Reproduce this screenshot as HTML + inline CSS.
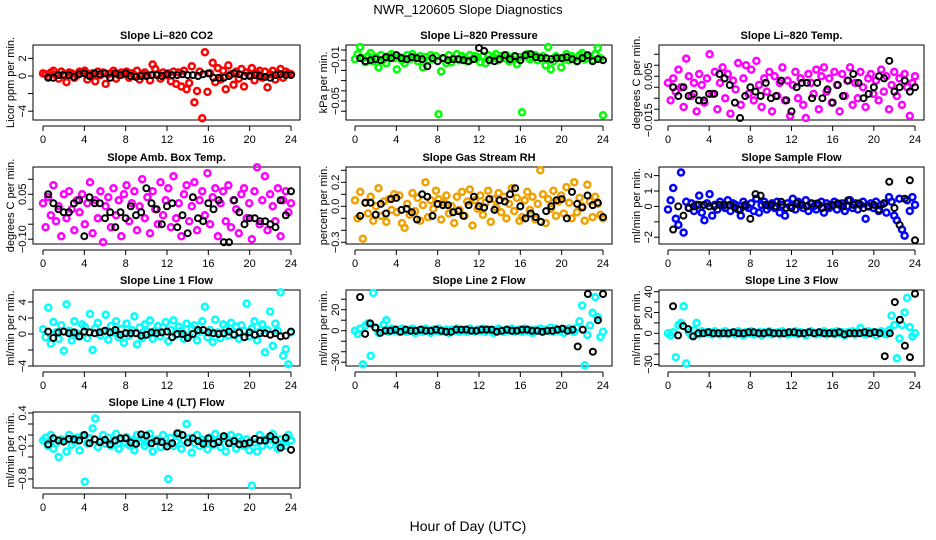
<!DOCTYPE html>
<html>
<head>
<meta charset="utf-8">
<style>
html,body{margin:0;padding:0;background:#fff;}
svg{display:block;font-family:"Liberation Sans",Arial,sans-serif;}
</style>
</head>
<body>
<svg id="chart" width="936" height="540" viewBox="0 0 936 540" xmlns="http://www.w3.org/2000/svg">
<rect x="0" y="0" width="936" height="540" fill="#fff"/>
<text x="468" y="14" text-anchor="middle" font-size="13">NWR_120605  Slope Diagnostics</text>
<text x="468" y="531" text-anchor="middle" font-size="14">Hour of Day (UTC)</text>
</svg>
<script>
// ---- data (values per panel) ----
const xTicks = [0,4,8,12,16,20,24];
const xTickLabels = ["0","4","8","12","16","20","24"];

const p1Color = [.3,.2,-.1,.4,.6,.1,-.3,.5,.2,-.7,.4,.3,-.2,.1,.5,.4,
.6,-.4,.2,.3,-.6,.5,.1,.4,-.9,.2,.3,.6,-.3,.1,.4,.2,
.5,-.2,.3,.1,.6,-.4,.2,.4,.1,-.5,1.3,.8,.2,-.3,.4,.1,
.3,-.6,.5,-.9,.4,-1.2,.6,-1.5,-.8,1.1,-3,-1.7,.5,-4.8,2.7,-1.8,
.3,1.5,-.7,.9,-.4,.6,-1.5,1.2,.2,-1.0,.5,-.3,.8,-1.2,.4,.1,
.9,-.5,.3,.6,-.2,.5,-1.3,.2,.6,-.4,.3,.8,-.2,.5,.3,.2];
const p1Black = [-.2,-.2,.1,.1,.1,-.1,.2,.3,0,.3,.2,.3,-.2,.3,.1,.3,0,-.1,0,0,.1,.1,0,.2,.1,.1,.2,.1,.1,0,.2,.3,-.2,-.2,-.2,0,.3,.2,0,0,.1,0,-.1,-.2,.1,.2,.1,.1];

const p2Color = [-.009,-.004,.003,-.008,-.012,-.006,-.003,-.011,-.007,-.017,-.005,-.009,-.013,-.006,-.004,-.008,
-.019,-.007,-.010,-.013,-.005,-.009,-.004,-.008,-.011,-.006,-.017,-.007,-.010,-.005,-.009,-.006,
-.063,-.021,-.008,-.013,-.005,-.012,-.009,-.004,-.010,-.006,-.008,-.011,-.005,-.009,-.006,-.007,
-.012,-.006,-.013,-.005,-.009,-.007,-.004,-.010,-.006,-.008,-.005,-.011,-.009,-.006,-.014,-.007,
-.061,-.006,-.004,-.009,-.008,-.005,-.010,-.007,-.006,-.015,.003,-.019,-.011,-.006,-.008,-.017,
-.009,-.004,-.010,-.006,-.008,-.011,-.005,-.003,-.009,-.006,-.007,-.010,-.004,.002,-.008,-.064];
const p2Black = [-.008,-.011,-.010,-.009,-.010,-.007,-.008,-.005,-.008,-.009,-.007,-.008,-.009,-.016,-.008,-.011,-.008,-.010,-.009,-.009,-.010,-.011,-.009,.002,-.001,-.010,-.011,-.009,-.005,-.009,-.006,-.010,-.005,-.004,-.007,-.008,-.008,-.009,-.008,-.008,-.007,-.009,-.011,-.008,-.005,-.011,-.009,-.010];

const p3Color = [.002,-.006,.004,-.002,.008,.0,-.009,.013,.005,-.004,.002,-.011,.006,.001,-.007,.004,
.015,-.003,.007,-.010,.002,.009,-.005,.006,-.012,.003,-.001,.011,-.008,.004,.010,-.003,
.008,-.006,.012,.001,-.009,.004,-.002,.007,-.011,.005,-.004,.002,.009,-.006,.003,-.013,
.001,.007,-.005,.004,-.008,-.014,.006,.002,-.003,.008,-.010,.005,.009,-.002,.004,-.007,
.007,.001,-.011,.006,-.004,.003,.009,-.008,.002,-.005,.007,.0,-.009,.004,.006,-.003,
.003,-.006,.008,-.002,.005,-.010,.001,.007,-.004,.004,-.008,.006,.0,-.013,.002,.005];
const p3Black = [.000,-.004,.000,-.004,-.003,-.006,-.006,-.003,-.003,.006,.004,.001,-.007,-.014,-.004,.000,-.002,-.004,.002,-.005,-.004,.003,-.006,-.011,.000,.002,.002,-.005,.002,-.005,-.001,-.007,.001,-.004,.003,.006,.002,-.005,-.003,.000,.005,.004,.012,-.002,.000,.003,-.002,.000];

const p4Color = [.02,-.06,.04,-.02,.08,-.04,.01,-.09,.05,-.03,.06,.0,-.07,.03,-.01,.05,
-.05,.02,.09,-.08,.03,-.03,.06,-.11,.01,.04,-.06,.07,-.02,.03,-.09,.05,
.08,-.04,.02,.06,-.07,.01,.10,-.03,.04,-.08,.06,.0,-.05,.09,-.02,.03,
.07,-.06,.11,-.03,.02,-.09,.05,.08,-.04,.01,.09,-.07,.03,.06,-.02,.12,
-.05,.04,.07,-.09,.02,.06,-.04,.08,-.06,.03,.0,-.08,.05,.07,-.03,.02,
-.10,.06,.14,-.05,.03,.11,-.07,.05,.01,-.04,.07,-.09,.03,.06,-.01,.02];
const p4Black = [.05,.02,.0,-.01,-.01,.02,.03,-.09,.04,.02,.02,-.03,-.01,-.06,-.01,-.03,.01,-.02,-.01,.07,.02,.0,-.05,.01,.02,-.06,-.02,-.08,.04,-.03,-.04,.02,.0,.03,-.11,-.11,.03,-.01,-.05,-.03,-.03,-.04,-.04,-.05,-.06,.03,-.02,.06];

const p5Color = [.05,-.10,.12,-.27,.03,-.06,.08,-.12,.0,.15,-.08,.04,-.13,.06,-.03,.10,
-.05,.09,-.14,-.18,.02,-.07,.11,-.04,.07,-.12,.01,.20,-.09,.05,-.02,.13,
.06,-.11,.03,.09,-.06,.0,-.14,.08,-.03,.12,-.08,.04,.14,-.16,.05,-.02,
.09,-.07,.03,.13,-.13,.06,-.01,.11,-.05,.08,-.10,.02,.15,-.04,.07,-.12,
-.09,.05,.12,-.03,.08,-.11,.02,.30,.10,-.14,.06,-.02,.13,-.08,.04,.09,
-.06,.16,.03,-.10,.20,-.05,.07,.0,-.12,.18,.04,-.09,.08,.02,-.07,-.10];
const p5Black = [-.08,.03,.03,-.07,.02,-.06,.06,.07,-.03,-.02,-.05,-.11,.10,.08,-.08,.02,.01,.01,-.05,-.04,-.08,.01,.08,.00,-.01,.06,-.03,.05,.04,.10,.15,.00,-.10,-.06,-.09,-.13,-.04,.00,.05,.06,-.10,.12,.02,-.01,.09,.01,.03,-.09];

const p6Color = [-.2,.4,1.2,-.8,-1.2,2.2,-1.7,.3,-.1,.2,-.3,.1,.7,-.4,-.9,.2,
.8,-.6,.1,-.2,.3,.0,-.1,.4,-.3,.2,.1,-.2,-.6,.3,.0,-.1,
.2,-.3,.5,-.4,.1,.3,-.2,.0,.2,-.1,.3,-.4,.1,-.6,.2,.0,
.5,-.2,.3,.1,-.1,.4,-.3,.2,.0,-.2,.1,.3,-.4,.2,-.1,.0,
.3,-.2,.1,.2,-.3,.0,.4,-.1,.2,-.2,.1,.3,-.8,.0,.2,-.1,
.3,-.3,.1,.2,-.4,.6,.3,-.6,-.9,.5,-1.5,-1.9,.4,-.3,.6,.1];
const p6Black = [-1.5,0,-.6,-.1,.0,.1,.1,.0,.0,.1,.1,.1,-.1,-.2,.1,-.8,.8,.7,.1,.1,.0,.3,-.1,-.1,.2,.1,.0,.2,.2,-.1,.0,.1,.2,.0,.4,.1,.2,-.1,.0,.1,-.2,.2,1.6,-.1,-1.2,.5,1.7,-2.2];

const p7Color = [.6,-.4,3.3,-1.2,1.5,.2,-.6,1.1,-2.1,3.7,.4,-.8,1.6,.1,-.3,1.2,
.9,-.5,2.5,-2.0,.7,1.4,-.2,.3,2.4,-.7,1.0,.2,1.6,-.4,.6,-1.1,
1.3,-.2,.5,2.2,-1.3,.8,-.5,1.2,.3,1.7,-.6,.4,1.0,-.3,.8,1.5,
-.9,.5,1.7,-.1,.9,.4,-.6,1.3,-.2,.7,1.1,-.8,.3,1.6,3.4,-.4,
.5,-1.0,1.8,.2,-.5,1.2,.6,-.2,1.4,.0,.9,-.6,1.1,.4,3.8,-.3,
.7,1.6,-.8,.3,1.2,-2.3,.5,2.8,-1.5,1.3,.4,5.2,-2.7,-1.9,-3.8,.2];
const p7Black = [.3,-.5,.2,.3,.1,.2,-.3,.3,.2,.1,.2,.4,.2,.5,-.1,.1,.1,.1,-.2,-.1,.2,.1,.2,.3,-.4,.0,.0,-.5,.0,.5,.5,.2,.1,.0,.1,.3,-.1,.2,-.4,.2,-.1,.1,.1,-.1,.1,-.3,-.2,.3];

const p8Color = [0,-3,2,-32,5,7,-24,36,3,-2,1,6,10,-1,2,0,
1,-1,2,0,-1,1,2,-2,0,1,-1,2,0,-2,1,0,
2,-1,0,1,-2,1,0,2,-1,0,1,-1,2,0,-1,1,
0,2,-1,1,0,-2,1,2,0,-1,1,0,2,-1,0,1,
-1,2,0,1,-2,1,0,2,-1,1,0,3,-1,2,0,1,
-2,1,2,0,-1,3,9,24,-33,-4,5,17,32,13,-6,-1];
const p8Black = [32,-3,7,3,-2,0,0,1,-1,1,0,0,1,0,0,1,0,-1,-1,1,1,1,0,0,1,1,1,-1,0,1,0,0,1,1,0,0,-1,0,0,1,2,0,1,-15,1,35,-20,10,35];

const p9Color = [0,-2,1,-23,8,10,26,-29,1,-2,3,10,-1,2,0,1,
1,-1,2,0,-1,1,2,-1,0,1,-1,2,0,-2,1,0,
2,-1,0,1,-2,1,0,2,-1,0,1,-1,2,0,-1,1,
0,2,-1,1,0,-2,1,2,0,-1,1,0,2,-1,0,1,
-1,2,0,1,-2,1,0,2,-1,1,5,0,-1,2,0,1,
-2,1,2,0,-1,3,17,8,-24,-5,8,20,34,6,-3,0];
const p9Black = [26,-2,7,4,-3,0,0,1,0,0,0,0,1,0,0,1,1,0,0,1,0,0,0,1,1,0,0,1,0,1,0,0,0,1,-1,0,0,0,1,0,1,0,-22,0,30,13,-12,-23,38];

const p10Color = [-.1,-.05,-.2,.0,-.25,-.15,-.4,-.08,-.1,-.3,.0,-.18,-.12,-.05,-.28,-.02,
-.85,-.15,-.06,.12,.3,-.22,-.1,.0,-.16,-.05,-.2,-.12,.02,-.25,-.08,-.14,
-.04,-.18,-.1,-.28,.0,-.12,-.06,-.2,-.15,.02,-.3,-.1,-.08,-.22,.0,-.16,
-.8,-.05,-.2,-.12,.03,-.25,-.1,.2,-.06,-.32,-.15,.0,-.2,-.08,-.12,-.26,
-.05,-.18,.02,-.1,-.22,-.06,-.3,-.12,.0,-.16,-.25,-.04,-.1,-.2,-.08,-.28,
-.92,-.14,-.3,.0,-.2,-.1,-.06,-.18,.02,-.12,-.25,-.08,-.15,-.2,.0,-.1];
const p10Black = [-.17,-.06,-.1,-.12,-.07,-.08,-.1,0,-.15,-.08,-.13,-.09,-.17,-.1,-.06,-.06,-.14,-.16,.01,-.01,-.15,-.11,-.13,-.21,-.15,.03,0,-.14,-.06,-.11,-.16,-.06,-.16,-.13,-.02,-.15,-.11,-.17,-.16,-.14,-.07,-.1,-.1,-.02,-.09,-.23,-.05,-.27];

const p1Ticks=[2,0,-2,-4], p1TickLabels=["2","0","","\u22124"];
const p2Ticks=[0,-0.01,-0.02,-0.03,-0.04,-0.05,-0.06], p2TickLabels=["","\u22120.01","","","","\u22120.05",""];
const p3Ticks=[0.015,0.01,0.005,0,-0.005,-0.01,-0.015], p3TickLabels=["","","0.005","","","","\u22120.015"];
const p4Ticks=[0.1,0.05,0,-0.05,-0.1], p4TickLabels=["","0.05","","","\u22120.10"];
const p5Ticks=[0.3,0.2,0.1,0,-0.1,-0.2,-0.3], p5TickLabels=["","0.2","","0.0","","","\u22120.3"];
const p6Ticks=[2,1,0,-1,-2], p6TickLabels=["2","1","0","","\u22122"];
const p7Ticks=[4,2,0,-2,-4], p7TickLabels=["4","2","0","","\u22124"];
const p8Ticks=[30,20,10,0,-10,-20,-30], p8TickLabels=["","20","","0","","","\u221230"];
const p9Ticks=[40,30,20,10,0,-10,-20,-30], p9TickLabels=["40","","20","","0","","","\u221230"];
const p10Ticks=[0.4,0.2,0,-0.2,-0.4,-0.6,-0.8], p10TickLabels=["0.4","","","\u22120.2","","","\u22120.8"];

// ---- layout ----
const cols=[{l:33,r:300,x0:43,x24:291,yl:10,tl:22},{l:346,r:612,x0:355,x24:603,yl:323,tl:335},{l:659,r:924,x0:668,x24:915,yl:636,tl:648}];
const rows=[{t:45,b:120},{t:167,b:244},{t:290,b:366},{t:412,b:488}];
const panels=[
 {name:"co2",title:"Slope Li\u2013820 CO2",ylab:"Licor ppm per min.",c:0,r:0,top:3.52,bot:-5.0,col:"#ff0000",data:p1Color,blk:p1Black,ticks:p1Ticks,tl:p1TickLabels},
 {name:"pressure",title:"Slope Li\u2013820 Pressure",ylab:"kPa per min.",c:1,r:0,top:0.0049,bot:-0.0686,col:"#00ff00",data:p2Color,blk:p2Black,ticks:p2Ticks,tl:p2TickLabels},
 {name:"li820-temp",title:"Slope Li\u2013820 Temp.",ylab:"degrees C per min.",c:2,r:0,top:0.0192,bot:-0.0149,col:"#ff00ff",data:p3Color,blk:p3Black,ticks:p3Ticks,tl:p3TickLabels},
 {name:"amb-box-temp",title:"Slope Amb. Box Temp.",ylab:"degrees C per min.",c:0,r:1,top:0.141,bot:-0.116,col:"#ff00ff",data:p4Color,blk:p4Black,ticks:p4Ticks,tl:p4TickLabels},
 {name:"gas-stream-rh",title:"Slope Gas Stream RH",ylab:"percent per min.",c:1,r:1,top:0.3275,bot:-0.314,col:"#f0a000",data:p5Color,blk:p5Black,ticks:p5Ticks,tl:p5TickLabels},
 {name:"sample-flow",title:"Slope Sample Flow",ylab:"ml/min per min.",c:2,r:1,top:2.56,bot:-2.44,col:"#0000ff",data:p6Color,blk:p6Black,ticks:p6Ticks,tl:p6TickLabels},
 {name:"line1-flow",title:"Slope Line 1 Flow",ylab:"ml/min per min.",c:0,r:2,top:5.5,bot:-4.0,col:"#00ffff",data:p7Color,blk:p7Black,ticks:p7Ticks,tl:p7TickLabels},
 {name:"line2-flow",title:"Slope Line 2 Flow",ylab:"ml/min per min.",c:1,r:2,top:38.8,bot:-33.6,col:"#00ffff",data:p8Color,blk:p8Black,ticks:p8Ticks,tl:p8TickLabels},
 {name:"line3-flow",title:"Slope Line 3 Flow",ylab:"ml/min per min.",c:2,r:2,top:41.6,bot:-31.4,col:"#00ffff",data:p9Color,blk:p9Black,ticks:p9Ticks,tl:p9TickLabels},
 {name:"line4-flow",title:"Slope Line 4 (LT) Flow",ylab:"ml/min per min.",c:0,r:3,top:0.418,bot:-0.964,col:"#00ffff",data:p10Color,blk:p10Black,ticks:p10Ticks,tl:p10TickLabels}
];

const NS="http://www.w3.org/2000/svg";
const svg=document.getElementById("chart");
function mk(tag,attrs,parent){const e=document.createElementNS(NS,tag);for(const k in attrs)e.setAttribute(k,attrs[k]);(parent||svg).appendChild(e);return e;}

panels.forEach(p=>{
  const C=cols[p.c], R=rows[p.r];
  const g=mk("g",{});
  
  
  const xs=h=>C.x0+(C.x24-C.x0)*h/24;
  const ys=v=>R.t+(p.top-v)/(p.top-p.bot)*(R.b-R.t);
  const t=mk("text",{x:(C.l+C.r)/2,y:R.t-6,"text-anchor":"middle","font-size":"11","font-weight":"bold"},g);
  t.textContent=p.title;
  
  
  const yl=mk("text",{x:0,y:0,"text-anchor":"middle","font-size":"11",transform:`translate(${C.yl+4},${(R.t+R.b)/2}) rotate(-90)`},g);
  yl.textContent=p.ylab;
  
  
  const box=mk("rect",{x:C.l,y:R.t,width:C.r-C.l,height:R.b-R.t,fill:"none",stroke:"#000","stroke-width":1},g);
  
  
  const xa=mk("g",{},g);
  
  
  const axY=R.b+6;
  mk("line",{x1:xs(0),x2:xs(24),y1:axY,y2:axY,stroke:"#000"},xa);
  xTicks.forEach((h,i)=>{
    mk("line",{x1:xs(h),x2:xs(h),y1:axY,y2:axY+5,stroke:"#000"},xa);
    const tt=mk("text",{x:xs(h),y:axY+17,"text-anchor":"middle","font-size":"11"},xa);
    tt.textContent=xTickLabels[i];
    
    
  });
  const ya=mk("g",{},g);
  
  
  mk("line",{x1:C.l,x2:C.l,y1:ys(p.ticks[0]),y2:ys(p.ticks[p.ticks.length-1]),stroke:"#000"},ya);
  p.ticks.forEach((v,i)=>{
    const y=ys(v);
    mk("line",{x1:C.l-5,x2:C.l,y1:y,y2:y,stroke:"#000"},ya);
    if(p.tl[i]){
      const tt=mk("text",{x:0,y:0,"text-anchor":"middle","font-size":"11",transform:`translate(${C.tl+4},${y}) rotate(-90)`},ya);
      tt.textContent=p.tl[i];
      
      
    }
  });
  const cs=mk("g",{fill:"none",stroke:p.col,"stroke-width":2.5},g);
  
  
  const n=p.data.length;
  p.data.forEach((v,i)=>{
    const c=mk("circle",{cx:xs(24*i/(n-1)),cy:ys(v),r:3},cs);
    
    
  });
  const bs=mk("g",{fill:"none",stroke:"#000","stroke-width":2},g);
  
  
  const m=p.blk.length;
  p.blk.forEach((v,i)=>{
    const c=mk("circle",{cx:xs(24*(i+1)/m),cy:ys(v),r:3},bs);
    
    
  });
});
</script>
</body>
</html>
